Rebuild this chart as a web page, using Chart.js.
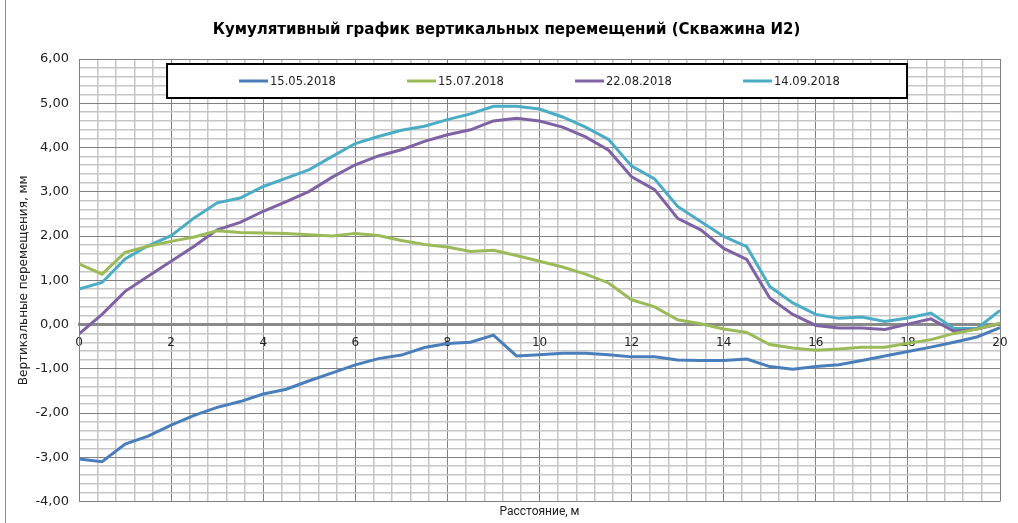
<!DOCTYPE html>
<html>
<head>
<meta charset="utf-8">
<script src="https://cdn.jsdelivr.net/npm/chart.js@4.4.0/dist/chart.umd.min.js"></script>
<style>
  html, body { margin: 0; padding: 0; background: #fff; }
  #wrap { position: relative; width: 1018px; height: 523px; }
  #frame { position: absolute; left: 5px; top: 0; width: 1px; height: 523px; background: #8c8c8c; }
</style>
</head>
<body>
<div id="wrap">
  <canvas id="chart" width="1018" height="523"></canvas>
  <div id="frame"></div>
</div>
<script>
const titleText = 'Кумулятивный график вертикальных перемещений (Скважина И2)';
const xTitle = 'Расстояние, м';
const yTitle = 'Вертикальные перемещения, мм';

// distance along the borehole, m
const distances = [0, 0.5, 1, 1.5, 2, 2.5, 3, 3.5, 4, 4.5, 5, 5.5, 6, 6.5, 7, 7.5, 8, 8.5, 9, 9.5,
                   10, 10.5, 11, 11.5, 12, 12.5, 13, 13.5, 14, 14.5, 15, 15.5, 16, 16.5, 17, 17.5, 18, 18.5, 19, 19.5, 20];

const seriesNames = ['15.05.2018', '15.07.2018', '22.08.2018', '14.09.2018'];
const seriesColors = ['#4a7ebb', '#9bbb59', '#7f62a3', '#4bacc6'];

const may15 = [-3.04, -3.10, -2.70, -2.52, -2.27, -2.05, -1.87, -1.74, -1.57, -1.46, -1.27, -1.09, -0.91, -0.77, -0.69, -0.52, -0.43, -0.40, -0.24, -0.71,
               -0.68, -0.65, -0.65, -0.68, -0.73, -0.73, -0.80, -0.81, -0.81, -0.78, -0.95, -1.01, -0.95, -0.91, -0.81, -0.71, -0.61, -0.51, -0.40, -0.28, -0.07];
const jul15 = [1.37, 1.14, 1.63, 1.77, 1.88, 1.98, 2.12, 2.08, 2.07, 2.06, 2.03, 2.00, 2.06, 2.01, 1.90, 1.81, 1.75, 1.65, 1.68, 1.56,
               1.43, 1.30, 1.14, 0.94, 0.56, 0.40, 0.11, 0.02, -0.10, -0.18, -0.45, -0.53, -0.58, -0.55, -0.51, -0.51, -0.42, -0.34, -0.20, -0.10, 0.03];
const aug22 = [-0.21, 0.23, 0.75, 1.09, 1.43, 1.77, 2.14, 2.31, 2.56, 2.78, 3.01, 3.33, 3.61, 3.81, 3.95, 4.14, 4.29, 4.40, 4.60, 4.66,
               4.60, 4.46, 4.24, 3.94, 3.34, 3.05, 2.40, 2.14, 1.72, 1.47, 0.60, 0.23, -0.02, -0.08, -0.08, -0.11, 0.01, 0.13, -0.15, -0.10, 0.02];
const sep14 = [0.80, 0.95, 1.48, 1.78, 2.01, 2.41, 2.75, 2.86, 3.12, 3.31, 3.50, 3.80, 4.09, 4.25, 4.39, 4.48, 4.63, 4.76, 4.93, 4.93,
               4.87, 4.69, 4.46, 4.18, 3.58, 3.29, 2.67, 2.33, 1.99, 1.76, 0.86, 0.49, 0.23, 0.14, 0.17, 0.07, 0.15, 0.26, -0.09, -0.09, 0.32];

const allSeries = [may15, jul15, aug22, sep14];

const majorGrid = '#808080';
const minorGrid = '#c6c6c6';
const onStep = (v, s) => Math.abs(v / s - Math.round(v / s)) < 1e-6;

Chart.defaults.font.family = 'DejaVu Sans';
Chart.defaults.color = '#222';

// legend in a framed white box inside the plot, as in the spreadsheet
const boxLegend = {
  id: 'boxLegend',
  afterDatasetsDraw(chart) {
    const {ctx, chartArea: a} = chart;
    const left = a.left + 88, top = a.top + 5, w = 740, h = 34;
    ctx.save();
    ctx.fillStyle = '#fff';
    ctx.fillRect(left, top, w, h);
    ctx.lineWidth = 2;
    ctx.strokeStyle = '#000';
    ctx.strokeRect(left, top, w, h);
    ctx.font = '11.5px "DejaVu Sans"';
    ctx.textBaseline = 'middle';
    chart.data.datasets.forEach((ds, i) => {
      const x = left + 72 + i * 168, y = top + h / 2;
      ctx.strokeStyle = ds.borderColor;
      ctx.lineWidth = 3;
      ctx.beginPath();
      ctx.moveTo(x, y);
      ctx.lineTo(x + 29, y);
      ctx.stroke();
      ctx.fillStyle = '#222';
      ctx.fillText(ds.label, x + 31, y + 1);
    });
    ctx.restore();
  }
};

new Chart(document.getElementById('chart'), {
  type: 'line',
  data: {
    datasets: seriesNames.map((name, i) => ({
      label: name,
      data: distances.map((d, j) => ({x: d, y: allSeries[i][j]})),
      borderColor: seriesColors[i],
      backgroundColor: seriesColors[i],
      borderWidth: 3,
      pointRadius: 0,
      tension: 0,
      fill: false
    }))
  },
  options: {
    responsive: false,
    animation: false,
    layout: {padding: {left: 13, right: 18, top: 0, bottom: 1}},
    plugins: {
      legend: {display: false},
      tooltip: {enabled: false},
      title: {
        display: true,
        text: titleText,
        color: '#000',
        font: {size: 15, weight: 'bold'},
        padding: {top: 21, bottom: 20}
      }
    },
    scales: {
      x: {
        type: 'linear',
        min: 0,
        max: 20,
        position: {y: 0},
        ticks: {
          stepSize: 0.4,
          autoSkip: false,
          maxRotation: 0,
          padding: 7,
          font: {size: 12},
          callback: v => onStep(v, 2) ? String(Math.round(v)) : ''
        },
        grid: {
          color: c => onStep(c.tick.value, 2) ? majorGrid : minorGrid,
          lineWidth: c => onStep(c.tick.value, 2) ? 1 : 1.5,
          tickLength: 4,
          tickColor: c => onStep(c.tick.value, 2) ? majorGrid : 'rgba(0,0,0,0)'
        },
        border: {color: '#8a8a8a', width: 3}
      },
      xTitle: {
        type: 'linear',
        min: 0,
        max: 20,
        position: 'bottom',
        ticks: {display: false},
        grid: {display: false, drawTicks: false},
        border: {display: false},
        title: {display: true, text: xTitle, font: {family: 'Roboto', size: 12}, padding: {top: 3, bottom: 3}}
      },
      y: {
        min: -4,
        max: 6,
        ticks: {
          stepSize: 0.2,
          autoSkip: false,
          padding: 10,
          font: {size: 13},
          callback: v => onStep(v, 1) ? v.toFixed(2).replace('.', ',') : ''
        },
        grid: {
          color: c => onStep(c.tick.value, 1) ? majorGrid : minorGrid,
          lineWidth: c => onStep(c.tick.value, 1) ? 1 : 1.5,
          drawTicks: false
        },
        border: {color: majorGrid, width: 1},
        title: {display: true, text: yTitle, font: {size: 12}, padding: {top: 4, bottom: -6}}
      }
    }
  },
  plugins: [boxLegend]
});
</script>
</body>
</html>
